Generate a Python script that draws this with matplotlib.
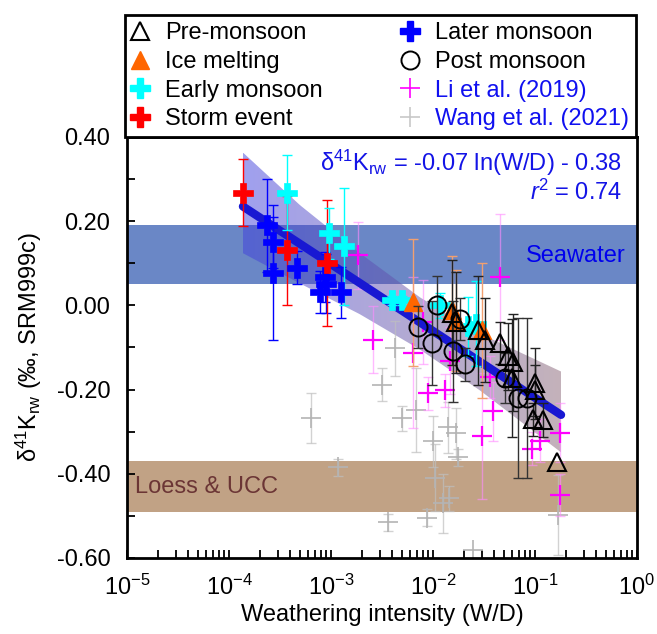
import numpy as np
import matplotlib
matplotlib.use('Agg')
import matplotlib.pyplot as plt
from matplotlib.lines import Line2D
from matplotlib.patches import Polygon
from matplotlib.ticker import LogLocator, FuncFormatter, MultipleLocator, FormatStrFormatter, NullFormatter

plt.rcParams['font.family'] = ['Liberation Sans', 'DejaVu Sans']
plt.rcParams['mathtext.fontset'] = 'custom'
plt.rcParams['mathtext.rm'] = 'Liberation Sans'
plt.rcParams['mathtext.it'] = 'Liberation Sans:italic'
plt.rcParams['mathtext.bf'] = 'Liberation Sans:bold'
plt.rcParams['axes.unicode_minus'] = False

# --- data ---
storm_x = [1.37e-4, 3.71e-4, 9.14e-4]
storm_y = [0.268, 0.131, 0.100]
storm_err = [0.08, 0.13, 0.15]

early_x = [3.71e-4, 9.56e-4, 1.34e-3, 3.96e-3, 4.97e-3, 1.17e-2, 2.20e-2, 2.65e-2]
early_y = [0.268, 0.171, 0.140, 0.012, 0.012, 0.000, -0.050, -0.043]
early_err = [0.09, 0.06, 0.14, 0.01, 0.01, 0.03, 0.07, 0.10]

later_x = [2.36e-4, 2.70e-4, 2.70e-4, 4.65e-4, 8.73e-4, 8.93e-4, 7.80e-4, 1.25e-3]
later_y = [0.190, 0.150, 0.078, 0.090, 0.067, 0.052, 0.031, 0.031]
later_err = [0.11, 0.06, 0.16, 0.04, 0.06, 0.07, 0.05, 0.06]

ice_x = [6.37e-3, 1.54e-2, 1.68e-2, 3.02e-2]
ice_y = [0.007, -0.012, -0.036, -0.059]
ice_err = [0.15, 0.13, 0.12, 0.16]

pre_x = [1.54e-2, 1.68e-2, 2.77e-2, 3.24e-2, 4.54e-2, 5.44e-2, 6.10e-2, 5.95e-2,
         0.100, 0.100, 9.57e-2, 0.120, 0.164]
pre_y = [-0.017, -0.040, -0.059, -0.083, -0.090, -0.121, -0.135, -0.173,
         -0.185, -0.202, -0.271, -0.273, -0.373]
pre_err = [0.125, 0.12, 0.13, 0.10, 0.05, 0.08, 0.115, 0.14, 0.085, 0.06, 0.04, 0.04, 0.0]

post_x = [7.13e-3, 9.78e-3, 1.09e-2, 1.57e-2, 1.84e-2, 2.06e-2, 5.08e-2, 6.80e-2, 8.35e-2]
post_y = [-0.052, -0.090, 0.000, -0.109, -0.033, -0.140, -0.173, -0.219, -0.219]
post_err = [0.05, 0.10, 0.07, 0.12, 0.05, 0.04, 0.06, 0.19, 0.19]

li_x = [1.84e-3, 2.58e-3, 6.37e-3, 7.98e-3, 8.93e-3, 1.31e-2, 1.47e-2, 3.62e-2,
        4.54e-2, 3.87e-2, 3.02e-2, 9.35e-2, 0.112, 0.176, 0.176]
li_y = [0.119, -0.081, -0.112, -0.040, -0.209, -0.202, -0.131, -0.171,
        0.067, -0.252, -0.311, -0.340, -0.321, -0.302, -0.451]
li_err = [0.08, 0.08, 0.18, 0.10, 0.04, 0.04, 0.08, 0.05, 0.15, 0.07, 0.15, 0.04, 0.05, 0.07, 0.05]

wang_x = [4.24e-3, 3.16e-3, 6.37e-4, 4.97e-3, 6.81e-3, 1.17e-3, 1.00e-2, 1.40e-2, 1.68e-2,
          1.76e-2, 1.05e-2, 1.44e-2, 1.25e-2, 3.62e-3, 8.73e-3, 2.47e-2, 0.168]
wang_y = [-0.102, -0.188, -0.268, -0.268, -0.249, -0.385, -0.323, -0.290, -0.304,
          -0.361, -0.409, -0.458, -0.470, -0.515, -0.504, -0.582, -0.499]
wang_err = [0.065, 0.04, 0.06, 0.03, 0.10, 0.02, 0.06, 0.06, 0.06,
            0.02, 0.08, 0.03, 0.07, 0.02, 0.02, 0.0, 0.095]

# regression line and its confidence band
fit_x = [1.37e-4, 0.18]
fit_y = [0.235, -0.260]
ci_x = [1.37e-4, 4.97e-4, 1.92e-3, 7.46e-3, 2.89e-2, 0.18]
ci_upper = [0.363, 0.238, 0.124, 0.019, -0.067, -0.157]
ci_lower = [0.124, 0.052, -0.021, -0.105, -0.202, -0.349]

seawater = (0.05, 0.19)
loess = (-0.49, -0.37)

fig = plt.figure(figsize=(6.57, 6.34), dpi=100)
ax = fig.add_axes([127 / 657, 76 / 634, 510 / 657, 421 / 634])
ax.set_xscale('log')

ax.axhspan(*seawater, color='#6A87C6', lw=0, zorder=0)
ax.axhspan(*loess, color='#C1A285', lw=0, zorder=0)

# confidence band: gradient image (blue -> brownish) clipped to the band outline
lx = np.log10(ci_x)
grid = np.linspace(lx[0], lx[-1], 121)
up = np.interp(grid, lx, ci_upper)
lo = np.interp(grid, lx, ci_lower)
outline = np.column_stack([np.r_[10 ** grid, 10 ** grid[::-1]], np.r_[up, lo[::-1]]])
clip = Polygon(outline, closed=True, transform=ax.transData)
c_left = np.array([64, 64, 221]) / 255
c_right = np.array([137, 101, 117]) / 255
ncol = 8192
# image columns are spaced linearly in x, so colour them by their log position
col_x = np.linspace(ci_x[0], ci_x[-1], ncol)
t = ((np.log10(col_x) - lx[0]) / (lx[-1] - lx[0]))[:, None]
grad = np.ones((1, ncol, 4))
grad[0, :, :3] = c_left * (1 - t) + c_right * t
grad[0, :, 3] = 0.5
im = ax.imshow(grad, extent=[ci_x[0], ci_x[-1], min(ci_lower), max(ci_upper)],
               aspect='auto', interpolation='bilinear', zorder=1)
im.set_clip_path(clip)

ax.plot(fit_x, fit_y, color='#1818D2', lw=6, solid_capstyle='round', zorder=4)


def draw(x, y, err, marker, ms, fc, ec, mew, ecolor, z, elw=1.0):
    x, y, err = np.array(x), np.array(y), np.array(err)
    m = err > 0
    ax.errorbar(x[m], y[m], yerr=err[m], fmt='none', ecolor=ecolor, elinewidth=elw,
                capsize=3.5, capthick=elw, zorder=z)
    ax.plot(x, y, ls='none', marker=marker, ms=ms, mfc=fc, mec=ec, mew=mew, zorder=z + 0.1)


draw(wang_x, wang_y, wang_err, '+', 15, 'none', '#B4B4B4', 1.2, (0.75, 0.75, 0.75, 0.7), 2)
draw(li_x, li_y, li_err, '+', 15, 'none', '#FF00FF', 1.6, (1.0, 0.55, 1.0, 0.6), 3)
draw(later_x, later_y, later_err, 'P', 14, '#0000FF', '#0000FF', 0.5, '#0000FF', 5)
draw(storm_x, storm_y, storm_err, 'P', 14, '#FF0000', '#FF0000', 0.5, '#FF0000', 5)
draw(early_x, early_y, early_err, 'P', 14, '#00FFFF', '#00FFFF', 0.5, '#00FFFF', 5)
draw(ice_x, ice_y, ice_err, '^', 13, '#FF6600', '#FF6600', 1.0, '#F2A070', 6)
draw(post_x, post_y, post_err, 'o', 13, 'none', 'k', 1.4, '#333333', 7)
draw(pre_x, pre_y, pre_err, '^', 13, 'none', 'k', 1.5, '#222222', 7)

ax.set_xlim(1e-5, 1)
ax.set_ylim(-0.6, 0.4)

blue = '#1414E6'
ax.text(0.9706, 0.938, 'δ$^{41}$K$_{\\mathrm{rw}}$ = -0.07 ln(W/D) - 0.38', transform=ax.transAxes,
        ha='right', va='center', color=blue, fontsize=17, zorder=10)
ax.text(0.9706, 0.869, '$\\it{r}$$^{2}$ = 0.74', transform=ax.transAxes,
        ha='right', va='center', color=blue, fontsize=17, zorder=10)
ax.text(0.978, 0.118, 'Seawater', transform=ax.get_yaxis_transform(),
        ha='right', va='center', color='#0000EE', fontsize=17, zorder=10)
ax.text(0.0157, -0.432, 'Loess & UCC', transform=ax.get_yaxis_transform(),
        ha='left', va='center', color='#6B3535', fontsize=17, zorder=10)

for s in ax.spines.values():
    s.set_linewidth(2.0)
ax.xaxis.set_minor_locator(LogLocator(base=10, subs=np.arange(2, 10), numticks=20))
ax.xaxis.set_minor_formatter(NullFormatter())
ax.xaxis.set_major_formatter(FuncFormatter(lambda v, _: '10$^{%d}$' % round(np.log10(v))))
ax.yaxis.set_major_locator(MultipleLocator(0.2))
ax.yaxis.set_minor_locator(MultipleLocator(0.1))
ax.yaxis.set_major_formatter(FormatStrFormatter('%.2f'))
ax.tick_params(which='both', direction='in', length=6, width=1.3, labelsize=17, pad=12,
               top=False, right=False)

ax.set_xlabel('Weathering intensity (W/D)', fontsize=17, labelpad=3)
ax.set_ylabel('δ$^{41}$K$_{\\mathrm{rw}}$ (‰, SRM999c)', fontsize=17, labelpad=9)

handles = [
    Line2D([], [], ls='none', marker='^', ms=13, mfc='none', mec='k', mew=1.5),
    Line2D([], [], ls='none', marker='^', ms=13, mfc='#FF6600', mec='#FF6600'),
    Line2D([], [], ls='none', marker='P', ms=14, mfc='#00FFFF', mec='#00FFFF'),
    Line2D([], [], ls='none', marker='P', ms=14, mfc='#FF0000', mec='#FF0000'),
    Line2D([], [], ls='none', marker='P', ms=14, mfc='#0000FF', mec='#0000FF'),
    Line2D([], [], ls='none', marker='o', ms=13, mfc='none', mec='k', mew=1.4),
    Line2D([], [], ls='none', marker='+', ms=15, mec='#FF00FF', mew=1.2),
    Line2D([], [], ls='none', marker='+', ms=15, mec='#C8C8C8', mew=1.2),
]
labels = ['Pre-monsoon', 'Ice melting', 'Early monsoon', 'Storm event',
          'Later monsoon', 'Post monsoon', 'Li et al. (2019)', 'Wang et al. (2021)']
leg = fig.legend(handles, labels, loc='upper left', ncol=2, mode='expand',
                 bbox_to_anchor=(125 / 657, 1 - 15 / 634, 511 / 657, 0.0),
                 fontsize=17, frameon=True, fancybox=False, framealpha=1,
                 borderpad=0.31, labelspacing=0.28, handlelength=0.65, handletextpad=0.74,
                 borderaxespad=0)
leg.get_frame().set_edgecolor('k')
leg.get_frame().set_linewidth(2.0)
for txt in leg.get_texts()[6:]:
    txt.set_color('#1010F0')

fig.savefig('out.png', dpi=100)
